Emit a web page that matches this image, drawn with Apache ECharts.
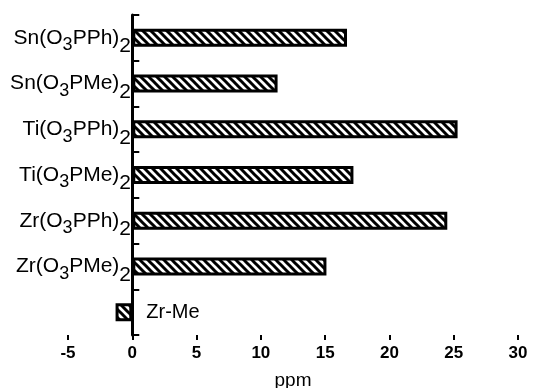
<!DOCTYPE html>
<html>
<head>
<meta charset="utf-8">
<script src="https://cdn.jsdelivr.net/npm/echarts@6/dist/echarts.min.js"></script>
<style>
  html, body { margin: 0; padding: 0; background: #fff; }
  #chart { width: 536px; height: 388px; }
</style>
</head>
<body>
<div id="chart"></div>
<script>
// categories from bottom to top
const categories = ['Zr-Me', 'Zr(O3PMe)2', 'Zr(O3PPh)2', 'Ti(O3PMe)2', 'Ti(O3PPh)2', 'Sn(O3PMe)2', 'Sn(O3PPh)2']
const values = [-1.3, 15.1, 24.5, 17.2, 25.3, 11.3, 16.7]
const xTicks = [-5, 0, 5, 10, 15, 20, 25, 30]

// hatch pattern (diagonal stripes, top-left to bottom-right)
function hatch() {
  const w = 8, h = 8
  const c = document.createElement('canvas')
  c.width = w
  c.height = h
  const ctx = c.getContext('2d')
  ctx.fillStyle = '#fff'
  ctx.fillRect(0, 0, w, h)
  ctx.strokeStyle = '#000'
  ctx.lineWidth = 3
  for (let k = -1; k <= 1; k++) {
    ctx.beginPath()
    ctx.moveTo(k * w - w, -h)
    ctx.lineTo(k * w + 2 * w, 2 * h)
    ctx.stroke()
  }
  return c
}

// "Sn(O3PPh)2" -> rich text with subscripts
function chemLabel(name) {
  if (name === 'Zr-Me') return ''
  const m = name.match(/^(.*\(O)3(.*\))2$/)
  return '{n|' + m[1] + '}{s|3}{n|' + m[2] + '}{t|2}'
}

const chart = echarts.init(document.getElementById('chart'))

const option = {
  animation: false,
  backgroundColor: '#fff',
  grid: { left: 68, right: 18, top: 15, bottom: 53, containLabel: false, outerBoundsMode: 'none' },
  xAxis: {
    type: 'value',
    min: -5,
    max: 30,
    interval: 5,
    name: 'ppm',
    nameLocation: 'middle',
    nameGap: 36,
    nameTextStyle: { color: '#000', fontSize: 19, fontFamily: 'Liberation Sans' },
    axisLine: { lineStyle: { color: '#000', width: 3 } },
    axisTick: { show: true, length: 5, lineStyle: { color: '#000', width: 2 } },
    axisLabel: {
      color: '#000', fontSize: 17, fontWeight: 'bold', fontFamily: 'Liberation Sans', margin: 10,
      customValues: xTicks
    },
    splitLine: { show: false }
  },
  yAxis: {
    type: 'category',
    data: categories,
    axisLine: { onZero: true, lineStyle: { color: '#000', width: 3 } },
    axisTick: { show: true, inside: true, length: 7, lineStyle: { color: '#000', width: 2 } },
    axisLabel: {
      // labels sit next to the zero line, not at the grid edge
      margin: -63,
      formatter: chemLabel,
      rich: {
        n: { color: '#000', fontSize: 21, fontFamily: 'Liberation Sans' },
        s: { color: '#000', fontSize: 18, fontFamily: 'Liberation Sans', padding: [15, 0, 0, 0] },
        t: { color: '#000', fontSize: 21, fontFamily: 'Liberation Sans', padding: [17, 0, 0, 0] }
      }
    }
  },
  series: [
    {
      type: 'bar',
      data: values.map((v, i) => ({
        value: v,
        label: categories[i] === 'Zr-Me'
          ? { show: true, position: 'right', distance: 14, formatter: 'Zr-Me', color: '#000', fontSize: 20, fontFamily: 'Liberation Sans' }
          : { show: false }
      })),
      barWidth: 18,
      itemStyle: {
        color: { image: hatch(), repeat: 'repeat' },
        borderColor: '#000',
        borderWidth: 3
      }
    }
  ]
}

chart.setOption(option)
</script>
</body>
</html>
